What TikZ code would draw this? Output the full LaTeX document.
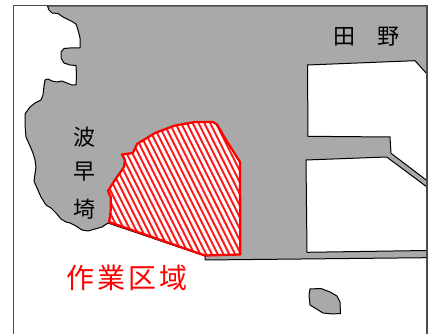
\documentclass[tikz,border=0pt]{standalone}
\usepackage{fontspec}
\newfontfamily\cjk{Noto Sans CJK JP}
\definecolor{land}{HTML}{A9A9A9}
\tikzset{
  landshape/.style={fill=land,draw=black,line width=0.75pt,line join=round},
  worksite/.style={draw=red,line width=1.7pt,line join=round},
  hatchline/.style={red!90!white,line width=1.45pt},
  placename/.style={font=\cjk\fontsize{16.5}{16.5}\selectfont,inner sep=0pt,text=black},
  worklabel/.style={font=\cjk\fontsize{21}{21}\selectfont,inner sep=0pt,text=red}
}
\newcommand{\workoutline}{(109,222) -- (205,255.5) -- (240.3,254.5) -- (240,162) -- (226,140) -- (217,124.5) -- (213,122) -- (195,122) -- (175,125.5) -- (155,133) -- (137,144) -- (133,153)
 -- (122,154.5) -- (125,160) -- (124,167) -- (117,177) -- (113,183) -- (108,191) -- (110.7,197) -- (110.7,210) -- (110,217) -- cycle}
\begin{document}
\begin{tikzpicture}[x=0.75pt,y=-0.75pt]
\useasboundingbox (0,0) rectangle (429,334);
\fill[white] (0,0) rectangle (429,334);
% land
\path[landshape] (47.5,6) -- (49,10) -- (52,13) -- (58,13.5) -- (63,17) -- (72,21.5) -- (76,24) -- (78,30) -- (80,38) -- (80,48)
 -- (70,48) -- (64,48.5) -- (61,52) -- (61,58) -- (64,63) -- (70,65) -- (76,65.5) -- (76.5,75) -- (76,85) -- (72,85) -- (67,83) -- (62,81)
 -- (57,82) -- (52,81) -- (48,79) -- (45,80) -- (44,86) -- (43,95) -- (41,100) -- (35,103) -- (30,107) -- (25,114) -- (25,125) -- (26,137)
 -- (30,146) -- (33,153) -- (35,160) -- (36,167) -- (34,181) -- (37,188) -- (41,197) -- (46,205) -- (51,208) -- (56,213) -- (61,219)
 -- (66,222) -- (70,223) -- (76,226) -- (82,230) -- (88,231) -- (95,229) -- (102,227) -- (108,223)
 -- (205,256) -- (205,260) -- (427,257.7) -- (427,250.5) -- (307,252.3) -- (306,160) -- (386.7,157) -- (427,187) -- (427,180.6) -- (391,153.3) -- (390,137)
 -- (308,136.3) -- (307.5,65) -- (415,60.7) -- (427,74) -- (427,6) -- cycle;
% islet
\path[landshape] (310,289) -- (321,288.5) -- (330,292) -- (337,296) -- (340,302) -- (340.5,313.5) -- (332,314) -- (323,313) -- (310,305) -- (309,295) -- cycle;
% frame
\draw[black!70,line width=0.9pt] (13.7,334) -- (13.7,5.7) -- (427,5.7) -- (427,334);
% work area
\begin{scope}
\clip \workoutline;
\fill[white] (100,110) rectangle (250,265);
\foreach \i in {-40,...,34} {
  \draw[hatchline] ({100+\i*5.8},100) -- ({100+\i*5.8+85},270);
}
\end{scope}
\draw[worksite] \workoutline;
% labels
\node[placename] (nami) at (84,137) {波};
\node[placename] (haya) at (84,172) {早};
\node[placename] (saki) at (84,209) {埼};
\node[placename] (den) at (344,37) {田};
\node[placename] (ya) at (388,37) {野};
\node[worklabel] (work) at (127,278) {作\hspace{2.2pt}業\hspace{2.2pt}区\hspace{2.2pt}域};
\end{tikzpicture}
\end{document}
